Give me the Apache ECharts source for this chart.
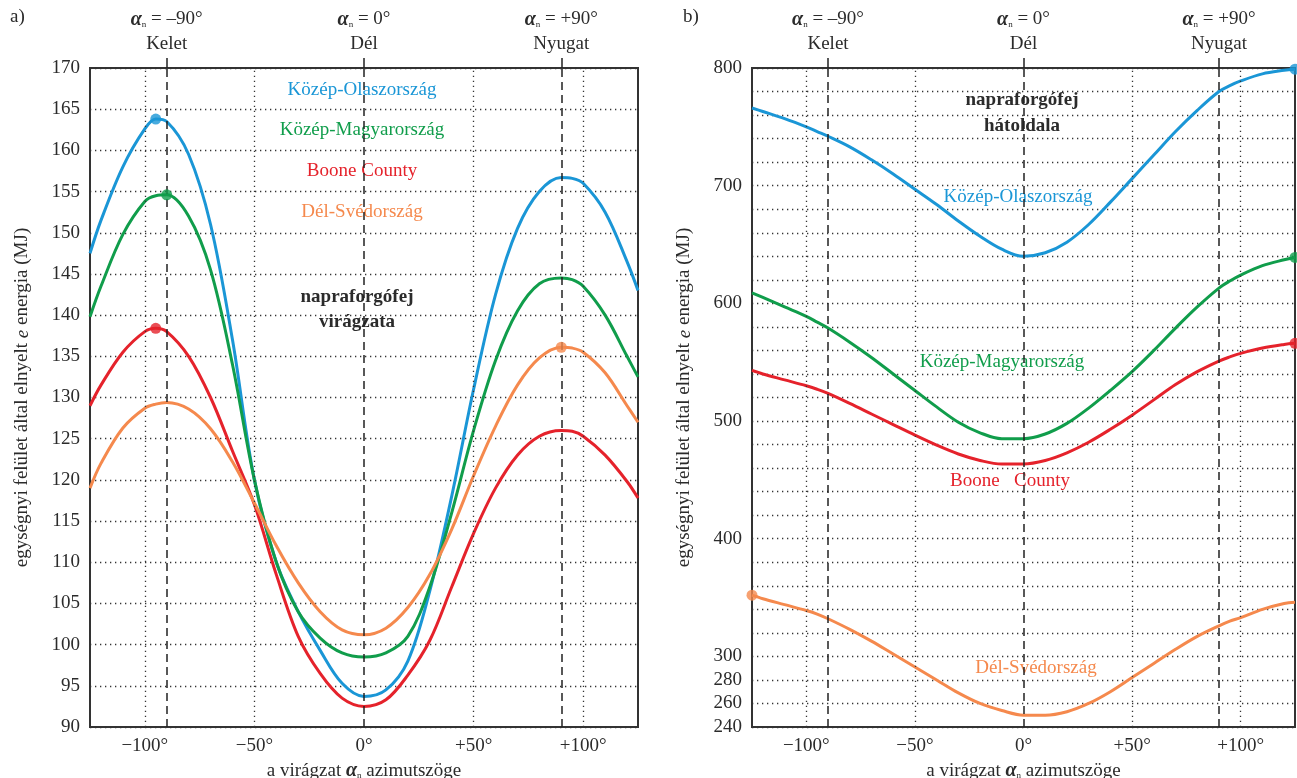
<!DOCTYPE html>
<html>
<head>
<meta charset="utf-8">
<script src="https://cdn.jsdelivr.net/npm/echarts@6/dist/echarts.min.js"></script>
<style>
html, body { margin: 0; padding: 0; background: #fff; }
#chart { width: 1297px; height: 778px; }
</style>
</head>
<body>
<div id="chart"></div>
<script>
// azimuth angles (deg) where the curves are read
var angles = [-125, -120, -110, -100, -95, -90, -80, -70, -60, -50, -40, -30, -20, -10, 0,
              10, 20, 30, 40, 50, 60, 70, 80, 90, 95, 100, 110, 120, 125];

// a) napraforgófej virágzata
var olaszA  = [147.5, 151.5, 158, 162.6, 163.8, 163.5, 159.5, 151, 137, 120, 110, 104, 99.3, 95.3, 93.7,
               94.5, 98, 106.5, 118, 131, 142.5, 150.5, 155, 156.7, 156.6, 156, 152.5, 146.5, 143];
var magyarA = [139.8, 143.5, 149.8, 153.8, 154.5, 154.6, 152, 145.5, 134, 120, 110, 104, 100.8, 99, 98.5,
               99, 101, 107, 116, 126, 134.5, 140.5, 143.8, 144.5, 144.3, 143.5, 140, 135, 132.5];
var booneA  = [129, 131.5, 135.5, 138, 138.4, 138, 135, 130, 123.5, 117, 108.5, 101, 96.5, 93.5, 92.5,
               93.3, 96.3, 100.5, 107, 113.5, 119, 123, 125.3, 126, 125.9, 125.3, 123, 119.8, 117.8];
var svedA   = [119, 122, 126.3, 128.7, 129.2, 129.4, 128.6, 126.2, 122.2, 117.2, 112, 107.5, 104, 101.8, 101.2,
               102, 104.5, 108.5, 114, 120.5, 126.5, 131.5, 134.8, 136.1, 136, 135.5, 133, 129, 127];

// b) napraforgófej hátoldala
var olaszB  = [766, 763, 757, 750, 746, 742, 733, 722, 710, 697, 684, 670, 657, 646, 640,
               643, 652, 667, 686, 706, 726, 746, 764, 780, 785, 789, 795, 798, 799];
var magyarB = [609, 605, 597, 589, 584, 579, 567, 554, 540, 526, 512, 499, 490, 485, 485,
               489, 498, 511, 526, 542, 560, 579, 597, 613, 619, 624, 632, 637, 639];
var booneB  = [543, 540, 535, 530, 527, 523.5, 515, 506, 497, 488, 479.5, 472, 466.5, 463.5, 463.5,
               466.5, 473, 482, 493, 505, 518, 531, 542, 551, 554.5, 557.5, 562, 565, 566];
var svedB   = [352, 349, 344, 339, 336, 332, 323, 313, 302, 291, 280, 269, 260, 254, 250,
               250, 253, 260, 270, 282, 294, 306, 317, 326, 330, 333, 340, 345, 346];

// angles of the marked points
var dotA = { olasz: -95, magyar: -90, boone: -95, sved: 90 };
var dotB = { olasz: 125, magyar: 125, boone: 125, sved: -125 };

var xTicks = [-100, -50, 0, 50, 100];
var xTickLabels = ['\u2212100\u00b0', '\u221250\u00b0', '0\u00b0', '+50\u00b0', '+100\u00b0'];
var topTicks = [-90, 0, 90];
var topTickLabels = ['\u201390\u00b0', '0\u00b0', '+90\u00b0'];
var topNames = ['Kelet', 'D\u00e9l', 'Nyugat'];
var gridLinesV = [-100, -50, 50, 100];
var dashLinesV = [-90, 0, 90];
var yLabelsB = [240, 260, 280, 300, 400, 500, 600, 700, 800];

var C_BLUE = '#1a96d6', C_GREEN = '#109d4b', C_RED = '#e5222b', C_ORANGE = '#f5894d';
var FONT = 'Liberation Serif';
var TXT = '#2b2b2b';

function pairs(vals) {
    var out = [];
    for (var i = 0; i < angles.length; i++) out.push([angles[i], vals[i]]);
    return out;
}
function dot(vals, ang) {
    var i = angles.indexOf(ang);
    return [[angles[i], vals[i]]];
}

function xAxes(gi) {
    return [{
        type: 'value', gridIndex: gi, min: -125, max: 125, position: 'bottom',
        axisLine: { show: false }, axisTick: { show: false }, splitLine: { show: false },
        axisLabel: {
            customValues: xTicks, margin: 10, color: TXT, fontFamily: FONT, fontSize: 19,
            formatter: function (v) { return xTickLabels[xTicks.indexOf(v)]; }
        },
        name: '{t|a virágzat }{a|\u03b1}{n|n}{t| azimutszöge}', nameLocation: 'middle', nameGap: 31,
        nameTextStyle: {
            rich: {
                t: { fontFamily: FONT, fontSize: 19, color: TXT },
                a: { fontFamily: FONT, fontSize: 20, fontStyle: 'italic', fontWeight: 'bold', color: TXT },
                n: { fontFamily: FONT, fontSize: 9, color: TXT, padding: [10, 0, 0, 0] }
            }
        }
    }, {
        type: 'value', gridIndex: gi, min: -125, max: 125, position: 'top',
        axisLine: { show: false }, splitLine: { show: false },
        axisTick: { show: true, customValues: topTicks, length: 10, lineStyle: { color: '#222', width: 1.5 } },
        axisLabel: {
            customValues: topTicks, margin: 11, color: TXT, fontFamily: FONT, fontSize: 19, lineHeight: 25,
            formatter: function (v) {
                var i = topTicks.indexOf(v);
                return '{a|\u03b1}{n|n}{t| = ' + topTickLabels[i] + '}\n{t|' + topNames[i] + '}';
            },
            rich: {
                t: { fontFamily: FONT, fontSize: 19, color: TXT, lineHeight: 25 },
                a: { fontFamily: FONT, fontSize: 20, fontStyle: 'italic', fontWeight: 'bold', color: TXT, lineHeight: 25 },
                n: { fontFamily: FONT, fontSize: 9, color: TXT, padding: [10, 0, 0, 0], lineHeight: 25 }
            }
        }
    }];
}

function yAxis(gi, min, max, step, fmt) {
    return {
        type: 'value', gridIndex: gi, min: min, max: max, interval: step,
        axisLine: { show: false }, axisTick: { show: false },
        splitLine: { show: true, lineStyle: { color: '#333', width: 1.3, type: [1.3, 3.7] } },
        axisLabel: { color: TXT, fontFamily: FONT, fontSize: 19, margin: 10, formatter: fmt },
        name: 'egységnyi felület által elnyelt {i|e} energia (MJ)', nameLocation: 'middle', nameGap: 58,
        nameRotate: 90,
        nameTextStyle: {
            fontFamily: FONT, fontSize: 19, color: TXT,
            rich: { i: { fontFamily: FONT, fontSize: 19, fontStyle: 'italic', color: TXT } }
        }
    };
}

function vLines() {
    var d = [];
    gridLinesV.forEach(function (v) {
        d.push({ xAxis: v, lineStyle: { color: '#333', width: 1.3, type: [1.3, 3.7] } });
    });
    dashLinesV.forEach(function (v) {
        d.push({ xAxis: v, lineStyle: { color: '#222', width: 1.5, type: [8, 5] } });
    });
    return {
        silent: true, symbol: 'none', label: { show: false }, animation: false,
        data: d
    };
}

function curve(name, vals, color, xi, yi, withLines) {
    var s = {
        name: name, type: 'line', xAxisIndex: xi, yAxisIndex: yi,
        data: pairs(vals), smooth: 0.35, showSymbol: false, clip: false,
        lineStyle: { color: color, width: 3 }, itemStyle: { color: color },
        animation: false, z: 3
    };
    if (withLines) { s.markLine = vLines(); }
    return s;
}
function marker(vals, ang, color, xi, yi) {
    return {
        type: 'scatter', xAxisIndex: xi, yAxisIndex: yi, data: dot(vals, ang),
        symbolSize: 11, itemStyle: { color: color }, clip: false, animation: false, z: 5
    };
}

function label(t, x, y, color, bold) {
    return {
        type: 'text', x: x, y: y,
        style: {
            text: t, fill: color, font: (bold ? 'bold ' : '') + '19px "' + FONT + '"',
            align: 'center', verticalAlign: 'middle'
        }
    };
}

var chart = echarts.init(document.getElementById('chart'));

var option = {
    backgroundColor: '#fff',
    animation: false,
    grid: [
        { left: 90, right: 659, top: 68, bottom: 51, show: true, borderColor: '#333', borderWidth: 2, outerBoundsMode: 'none' },
        { left: 752, right: 2, top: 68, bottom: 51, show: true, borderColor: '#333', borderWidth: 2, outerBoundsMode: 'none' }
    ],
    xAxis: xAxes(0).concat(xAxes(1)),
    yAxis: [
        yAxis(0, 90, 170, 5),
        yAxis(1, 240, 800, 20, function (v) { return yLabelsB.indexOf(v) >= 0 ? String(v) : ''; })
    ],
    graphic: [
        { type: 'text', x: 10, y: 8, style: { text: 'a)', fill: TXT, font: '19px "' + FONT + '"' } },
        { type: 'text', x: 683, y: 8, style: { text: 'b)', fill: TXT, font: '19px "' + FONT + '"' } },
        label('Közép-Olaszország', 362, 90, C_BLUE),
        label('Közép-Magyarország', 362, 130, C_GREEN),
        label('Boone County', 362, 171, C_RED),
        label('Dél-Svédország', 362, 212, C_ORANGE),
        label('napraforgófej', 357, 297, TXT, true),
        label('virágzata', 357, 322, TXT, true),
        label('napraforgófej', 1022, 100, TXT, true),
        label('hátoldala', 1022, 126, TXT, true),
        label('Közép-Olaszország', 1018, 197, C_BLUE),
        label('Közép-Magyarország', 1002, 362, C_GREEN),
        label('Boone   County', 1010, 481, C_RED),
        label('Dél-Svédország', 1036, 668, C_ORANGE)
    ],
    series: [
        curve('Közép-Olaszország', olaszA, C_BLUE, 0, 0, true),
        curve('Közép-Magyarország', magyarA, C_GREEN, 0, 0),
        curve('Boone County', booneA, C_RED, 0, 0),
        curve('Dél-Svédország', svedA, C_ORANGE, 0, 0),
        marker(olaszA, dotA.olasz, C_BLUE, 0, 0),
        marker(magyarA, dotA.magyar, C_GREEN, 0, 0),
        marker(booneA, dotA.boone, C_RED, 0, 0),
        marker(svedA, dotA.sved, C_ORANGE, 0, 0),

        curve('Közép-Olaszország', olaszB, C_BLUE, 2, 1, true),
        curve('Közép-Magyarország', magyarB, C_GREEN, 2, 1),
        curve('Boone County', booneB, C_RED, 2, 1),
        curve('Dél-Svédország', svedB, C_ORANGE, 2, 1),
        marker(olaszB, dotB.olasz, C_BLUE, 2, 1),
        marker(magyarB, dotB.magyar, C_GREEN, 2, 1),
        marker(booneB, dotB.boone, C_RED, 2, 1),
        marker(svedB, dotB.sved, C_ORANGE, 2, 1)
    ]
};
chart.setOption(option);
</script>
</body>
</html>
